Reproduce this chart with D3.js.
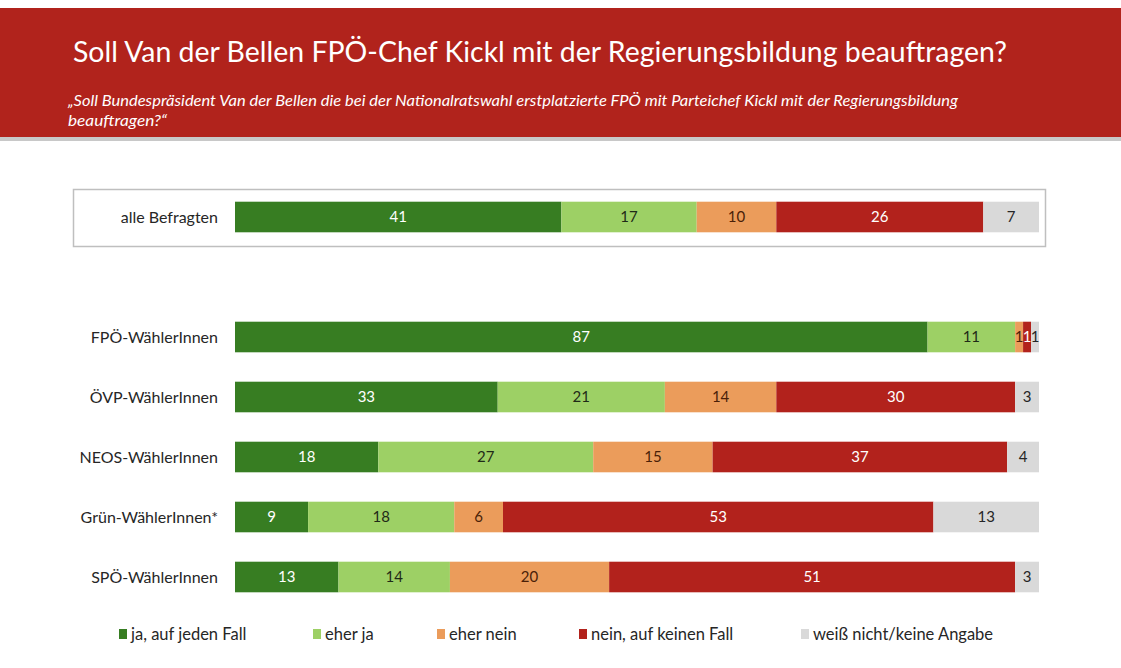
<!DOCTYPE html>
<html>
<head>
<meta charset="utf-8">
<script src="https://cdn.jsdelivr.net/npm/d3@7"></script>
<style>
    body { margin: 0; background: #fff; }
    svg { display: block; font-family: Lato, "Open Sans", sans-serif; }
</style>
</head>
<body>
<svg id="chart" width="1121" height="668"></svg>
<script>
// chart data
var groups = ['alle Befragten', 'FPÖ-WählerInnen', 'ÖVP-WählerInnen', 'NEOS-WählerInnen', 'Grün-WählerInnen*', 'SPÖ-WählerInnen'];
var answers = ['ja, auf jeden Fall', 'eher ja', 'eher nein', 'nein, auf keinen Fall', 'weiß nicht/keine Angabe'];
var jaAufJedenFall = [41, 87, 33, 18, 9, 13];
var eherJa = [17, 11, 21, 27, 18, 14];
var eherNein = [10, 1, 14, 15, 6, 20];
var neinAufKeinenFall = [26, 1, 30, 37, 53, 51];
var weissNicht = [7, 1, 3, 4, 13, 3];
var colors = ['#377d22', '#9dd065', '#eb9c5b', '#b2221c', '#d9d9d9'];
var textColors = ['#ffffff', '#1f2a17', '#4a1f08', '#ffffff', '#262626'];

var title = 'Soll Van der Bellen FPÖ-Chef Kickl mit der Regierungsbildung beauftragen?';
var subtitle = ['„Soll Bundespräsident Van der Bellen die bei der Nationalratswahl erstplatzierte FPÖ mit Parteichef Kickl mit der Regierungsbildung',
    'beauftragen?“'];

var svg = d3.select('#chart');

// build rows from the series arrays
var series = [jaAufJedenFall, eherJa, eherNein, neinAufKeinenFall, weissNicht];
var rows = groups.map(function(g, i) {
    var row = { group: g };
    answers.forEach(function(a, j) { row[a] = series[j][i]; });
    return row;
});

// header
svg.append('rect').attr('x', 0).attr('y', 8).attr('width', 1121).attr('height', 129).attr('fill', '#b1231c');
svg.append('rect').attr('x', 0).attr('y', 137).attr('width', 1121).attr('height', 4).attr('fill', '#c8c8c8');

function fitText(sel, width) {
    var w = sel.node().getComputedTextLength();
    if (w > 0) {
        sel.attr('textLength', width).attr('lengthAdjust', 'spacingAndGlyphs');
    }
}

var t = svg.append('text')
    .attr('x', 73).attr('y', 62)
    .attr('fill', '#fff').style('font-size', '28px')
    .text(title);
fitText(t, 934);

subtitle.forEach(function(line, i) {
    var s = svg.append('text')
        .attr('x', 68).attr('y', 106 + i * 20)
        .attr('fill', '#fff').style('font-size', '15px').style('font-style', 'italic')
        .text(line);
    fitText(s, i === 0 ? 890 : 99);
});

// scales
var slots = [groups[0], '', groups[1], groups[2], groups[3], groups[4], groups[5]];
var y = d3.scaleBand().domain(slots).range([187, 607]).paddingInner(0.49).paddingOuter(0.245);
var x = d3.scaleLinear().domain([0, 1]).range([235, 1039]);
var color = d3.scaleOrdinal().domain(answers).range(colors);
var textColor = d3.scaleOrdinal().domain(answers).range(textColors);

var stack = d3.stack().keys(answers).offset(d3.stackOffsetExpand);
var stacked = stack(rows);

// box round "alle Befragten"
svg.append('rect')
    .attr('x', 73.5).attr('y', 189.5).attr('width', 972).attr('height', 57)
    .attr('fill', 'none').attr('stroke', '#bfbfbf').attr('stroke-width', 1.5);

var layer = svg.selectAll('g.layer')
    .data(stacked)
    .enter().append('g')
    .attr('class', 'layer');

layer.selectAll('rect')
    .data(function(d) { return d.map(function(p) { p.key = d.key; return p; }); })
    .enter().append('rect')
    .attr('x', function(d) { return x(d[0]); })
    .attr('y', function(d) { return y(d.data.group); })
    .attr('width', function(d) { return x(d[1]) - x(d[0]); })
    .attr('height', y.bandwidth())
    .attr('fill', function(d) { return color(d.key); });

layer.selectAll('text')
    .data(function(d) { return d; })
    .enter().append('text')
    .attr('x', function(d) { return (x(d[0]) + x(d[1])) / 2; })
    .attr('y', function(d) { return y(d.data.group) + y.bandwidth() / 2; })
    .attr('dy', '0.36em')
    .attr('text-anchor', 'middle')
    .attr('fill', function(d) { return textColor(d.key); })
    .style('font-size', '15px')
    .text(function(d) { return d.data[d.key]; });

// group labels
svg.selectAll('text.group')
    .data(groups)
    .enter().append('text')
    .attr('class', 'group')
    .attr('x', 218)
    .attr('y', function(d) { return y(d) + y.bandwidth() / 2; })
    .attr('dy', '0.36em')
    .attr('text-anchor', 'end')
    .attr('fill', '#262626')
    .style('font-size', '16px')
    .text(function(d) { return d; });

// legend
var legendX = [119, 313, 437, 579, 801];
var legend = svg.selectAll('g.legend')
    .data(answers)
    .enter().append('g')
    .attr('class', 'legend')
    .attr('transform', function(d, i) { return 'translate(' + legendX[i] + ',634)'; });

legend.append('rect')
    .attr('x', 0).attr('y', -5).attr('width', 8).attr('height', 10)
    .attr('fill', function(d) { return color(d); });

legend.append('text')
    .attr('x', 12).attr('dy', '0.36em')
    .attr('fill', '#262626')
    .style('font-size', '16.5px')
    .text(function(d) { return d; });
</script>
</body>
</html>
